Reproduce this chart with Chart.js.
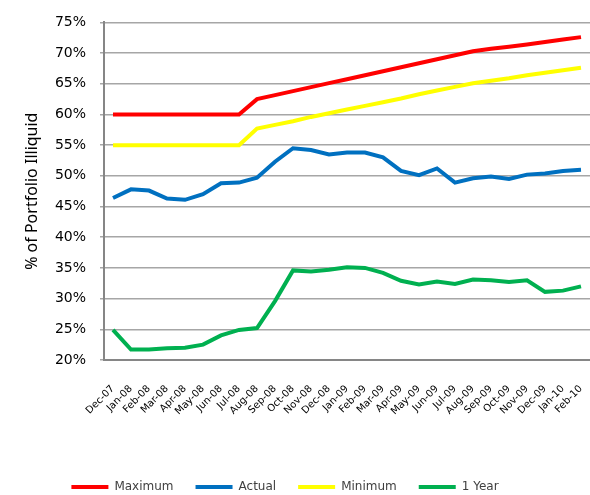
<!DOCTYPE html>
<html>
<head>
<meta charset="utf-8">
<script src="https://cdn.jsdelivr.net/npm/chart.js@4.4.1/dist/chart.umd.min.js"></script>
<style>
  html, body { margin: 0; padding: 0; background: #fff; overflow: hidden; }
  #wrap { width: 590px; height: 495px; }
</style>
</head>
<body>
<div id="wrap"><canvas id="myChart"></canvas></div>
<script>
const months = ['Dec-07', 'Jan-08', 'Feb-08', 'Mar-08', 'Apr-08', 'May-08', 'Jun-08', 'Jul-08',
  'Aug-08', 'Sep-08', 'Oct-08', 'Nov-08', 'Dec-08', 'Jan-09', 'Feb-09', 'Mar-09', 'Apr-09',
  'May-09', 'Jun-09', 'Jul-09', 'Aug-09', 'Sep-09', 'Oct-09', 'Nov-09', 'Dec-09', 'Jan-10', 'Feb-10'];

const maximum = [60, 60, 60, 60, 60, 60, 60, 60, 62.5, 63.15, 63.8, 64.45, 65.1, 65.75, 66.4,
  67.05, 67.7, 68.35, 69.0, 69.65, 70.3, 70.7, 71.05, 71.4, 71.8, 72.2, 72.6];
const actual = [46.4, 47.8, 47.6, 46.3, 46.1, 47.0, 48.8, 48.9, 49.7, 52.3, 54.5, 54.2, 53.5,
  53.8, 53.8, 53.0, 50.8, 50.1, 51.2, 48.9, 49.6, 49.9, 49.5, 50.2, 50.4, 50.8, 51.0];
const minimum = [55, 55, 55, 55, 55, 55, 55, 55, 57.7, 58.3, 58.9, 59.6, 60.2, 60.8, 61.4,
  62.0, 62.6, 63.3, 63.9, 64.5, 65.1, 65.5, 65.9, 66.4, 66.8, 67.2, 67.6];
const oneYear = [24.9, 21.7, 21.7, 21.9, 22.0, 22.5, 24.0, 24.9, 25.2, 29.6, 34.6, 34.4, 34.7,
  35.1, 35.0, 34.2, 32.9, 32.3, 32.8, 32.4, 33.1, 33.0, 32.7, 33.0, 31.1, 31.3, 32.0];

const ctx = document.getElementById('myChart').getContext('2d');

function line(label, values, color) {
  return {
    label: label,
    data: values,
    borderColor: color,
    backgroundColor: color,
    borderWidth: 4,
    pointRadius: 0,
    pointStyle: 'line',
    tension: 0
  };
}

// the legend in the original sits a little left of centre
const legendShift = {
  id: 'legendShift',
  afterLayout(chart) {
    chart.legend.left -= 10;
    chart.legend.right -= 10;
  }
};

new Chart(ctx, {
  type: 'line',
  data: {
    labels: months,
    datasets: [
      line('Maximum', maximum, '#ff0000'),
      line('Actual', actual, '#0070c0'),
      line('Minimum', minimum, '#ffff00'),
      line('1 Year', oneYear, '#00b050')
    ]
  },
  options: {
    responsive: true,
    maintainAspectRatio: false,
    animation: false,
    layout: { padding: { top: 18, right: 0, left: 0, bottom: -8 } },
    plugins: {
      legend: {
        position: 'bottom',
        labels: {
          usePointStyle: true,
          pointStyleWidth: 37,
          boxHeight: 3,
          padding: 22,
          color: '#404040',
          font: { family: 'DejaVu Sans', size: 12 }
        }
      },
      tooltip: { enabled: false }
    },
    scales: {
      x: {
        offset: true,
        grid: { display: false },
        border: { display: true, color: '#868686', width: 2 },
        ticks: {
          autoSkip: false,
          maxRotation: 45,
          minRotation: 45,
          padding: 15,
          color: '#000',
          font: { family: 'DejaVu Sans', size: 10 }
        },
        afterFit: function (scale) {
          scale.height = 99;
          scale.paddingRight = 0;
        }
      },
      y: {
        min: 20,
        max: 75,
        grid: { color: '#a6a6a6', lineWidth: 1.5, tickLength: 4 },
        border: { display: true, color: '#868686', width: 2 },
        ticks: {
          stepSize: 5,
          padding: 14,
          color: '#000',
          font: { family: 'DejaVu Sans', size: 14 },
          callback: function (v) { return v + '%'; }
        },
        title: {
          display: true,
          text: '% of Portfolio Illiquid',
          color: '#000',
          padding: { top: 23, bottom: 0 },
          font: { family: 'Noto Sans', size: 16 }
        },
        afterFit: function (scale) { scale.width = 104; }
      }
    }
  },
  plugins: [legendShift]
});
</script>
</body>
</html>
